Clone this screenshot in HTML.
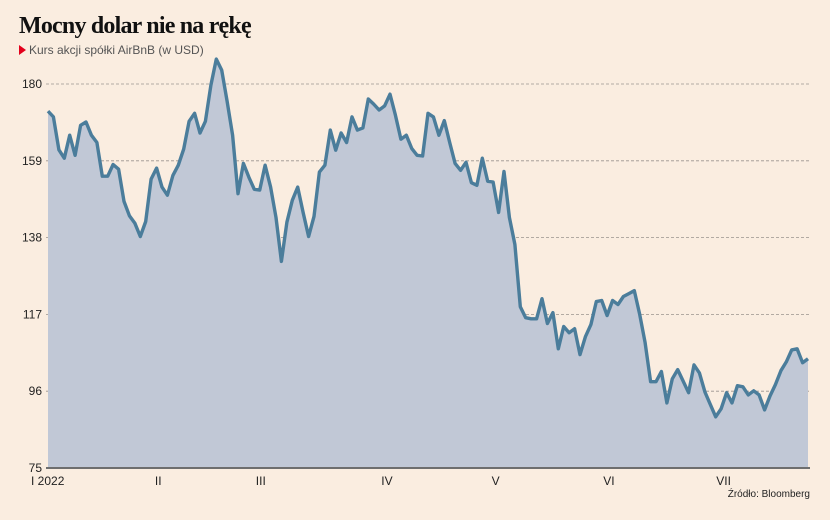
<!DOCTYPE html>
<html><head><meta charset="utf-8"><style>
body{margin:0;background:#faede0;}
#wrap{position:relative;width:830px;height:520px;background:#faede0;overflow:hidden;font-family:"Liberation Sans",sans-serif;}
h1{position:absolute;left:19px;top:13px;margin:0;font:bold 24px "Liberation Serif",serif;letter-spacing:-0.8px;color:#111;}
.sub{position:absolute;left:19px;top:43px;font-size:12px;color:#555;}
.sub span{display:inline-block;width:0;height:0;border-left:7px solid #e3001b;border-top:5px solid transparent;border-bottom:5px solid transparent;margin-right:3px;vertical-align:-1px;}
.src{position:absolute;right:20px;top:489px;font-size:10px;color:#222;}
</style></head><body>
<div id="wrap">
<h1>Mocny dolar nie na rękę</h1>
<div class="sub"><span></span>Kurs akcji spółki AirBnB (w USD)</div>
<svg id="chart" width="830" height="520" style="position:absolute;left:0;top:0"></svg>
<div class="src">Źródło: Bloomberg</div>
</div>
<script>
const yTicks=[75,96,117,138,159,180];
const monthLabels=["I 2022","II","III","IV","V","VI","VII"];
const monthPos=[0,14.5,28.0,44.6,58.9,73.8,88.9];
const prices=[172.6,171,162,159.7,166,160.5,168.7,169.6,166,164,154.8,154.8,158,156.7,147.9,144,141.9,138.3,142.4,154,157,151.8,149.6,155,157.8,162.2,169.8,172,166.6,169.8,179.7,186.8,183.8,175.3,166,150,158.3,154.5,151.2,151,157.8,151.8,143.5,131.5,142.2,148.2,151.8,144.9,138.3,143.8,155.9,157.8,167.4,161.9,166.6,164,171,167.4,168,175.9,174.5,172.9,174,177.2,171.5,164.9,166,162.4,160.5,160.3,172,171,166,170,164,158.3,156.4,158.6,153,152.3,159.7,153.4,153.2,144.9,156.1,143.5,136.1,119.1,116.1,115.8,115.8,121.3,114.5,117.5,107.6,113.7,112,113.1,106,110.9,114.2,120.5,120.8,116.7,120.8,119.7,121.9,122.7,123.5,117,109.3,98.6,98.6,101.4,92.8,99.4,101.9,98.8,95.6,103.2,101,95.8,92.4,89,91.2,95.6,92.8,97.5,97.2,95,96.1,95,90.9,94.7,97.8,101.6,104,107.3,107.6,103.8,104.9];
const svg=document.getElementById('chart');
const NS='http://www.w3.org/2000/svg';
const x0=48,x1=808,yB=468,yT=84,vMin=75,vMax=180;
const xs=i=>x0+(x1-x0)*i/(prices.length-1);
const ys=v=>yB-(v-vMin)*(yB-yT)/(vMax-vMin);
const xm=d=>x0+(x1-x0)*d/100;
function mk(t,a){const e=document.createElementNS(NS,t);for(const k in a)e.setAttribute(k,a[k]);svg.appendChild(e);return e;}
yTicks.forEach(v=>{
  if(v>vMin){const g=mk('line',{x1:46,x2:810,y1:ys(v),y2:ys(v),stroke:'#9a948e','stroke-width':0.8,'stroke-dasharray':'3,2'});
  
  }
  const t=mk('text',{x:42,y:ys(v)+4,'text-anchor':'end','font-size':12,fill:'#222','font-family':'Liberation Sans, sans-serif'});
  t.textContent=v;
  
  
});
let d='M'+xs(0)+','+yB;
prices.forEach((v,i)=>{d+=' L'+xs(i).toFixed(1)+','+ys(v).toFixed(1);});
d+=' L'+xs(prices.length-1)+','+yB+' Z';
const area=mk('path',{d:d,fill:'#c1c8d6'});


const ld=prices.map((v,i)=>(i?'L':'M')+xs(i).toFixed(1)+','+ys(v).toFixed(1)).join(' ');
const line=mk('path',{d:ld,fill:'none',stroke:'#4b7d9b','stroke-width':3.4,'stroke-linejoin':'round'});


const ax=mk('line',{x1:46,x2:810,y1:yB,y2:yB,stroke:'#6e6e6e','stroke-width':2});


monthLabels.forEach((m,i)=>{
  const t=mk('text',{x:i==0?31:xm(monthPos[i]),y:485,'text-anchor':i==0?'start':'middle','font-size':12,fill:'#222','font-family':'Liberation Sans, sans-serif'});
  t.textContent=m;
  
  
});
</script>
</body></html>
